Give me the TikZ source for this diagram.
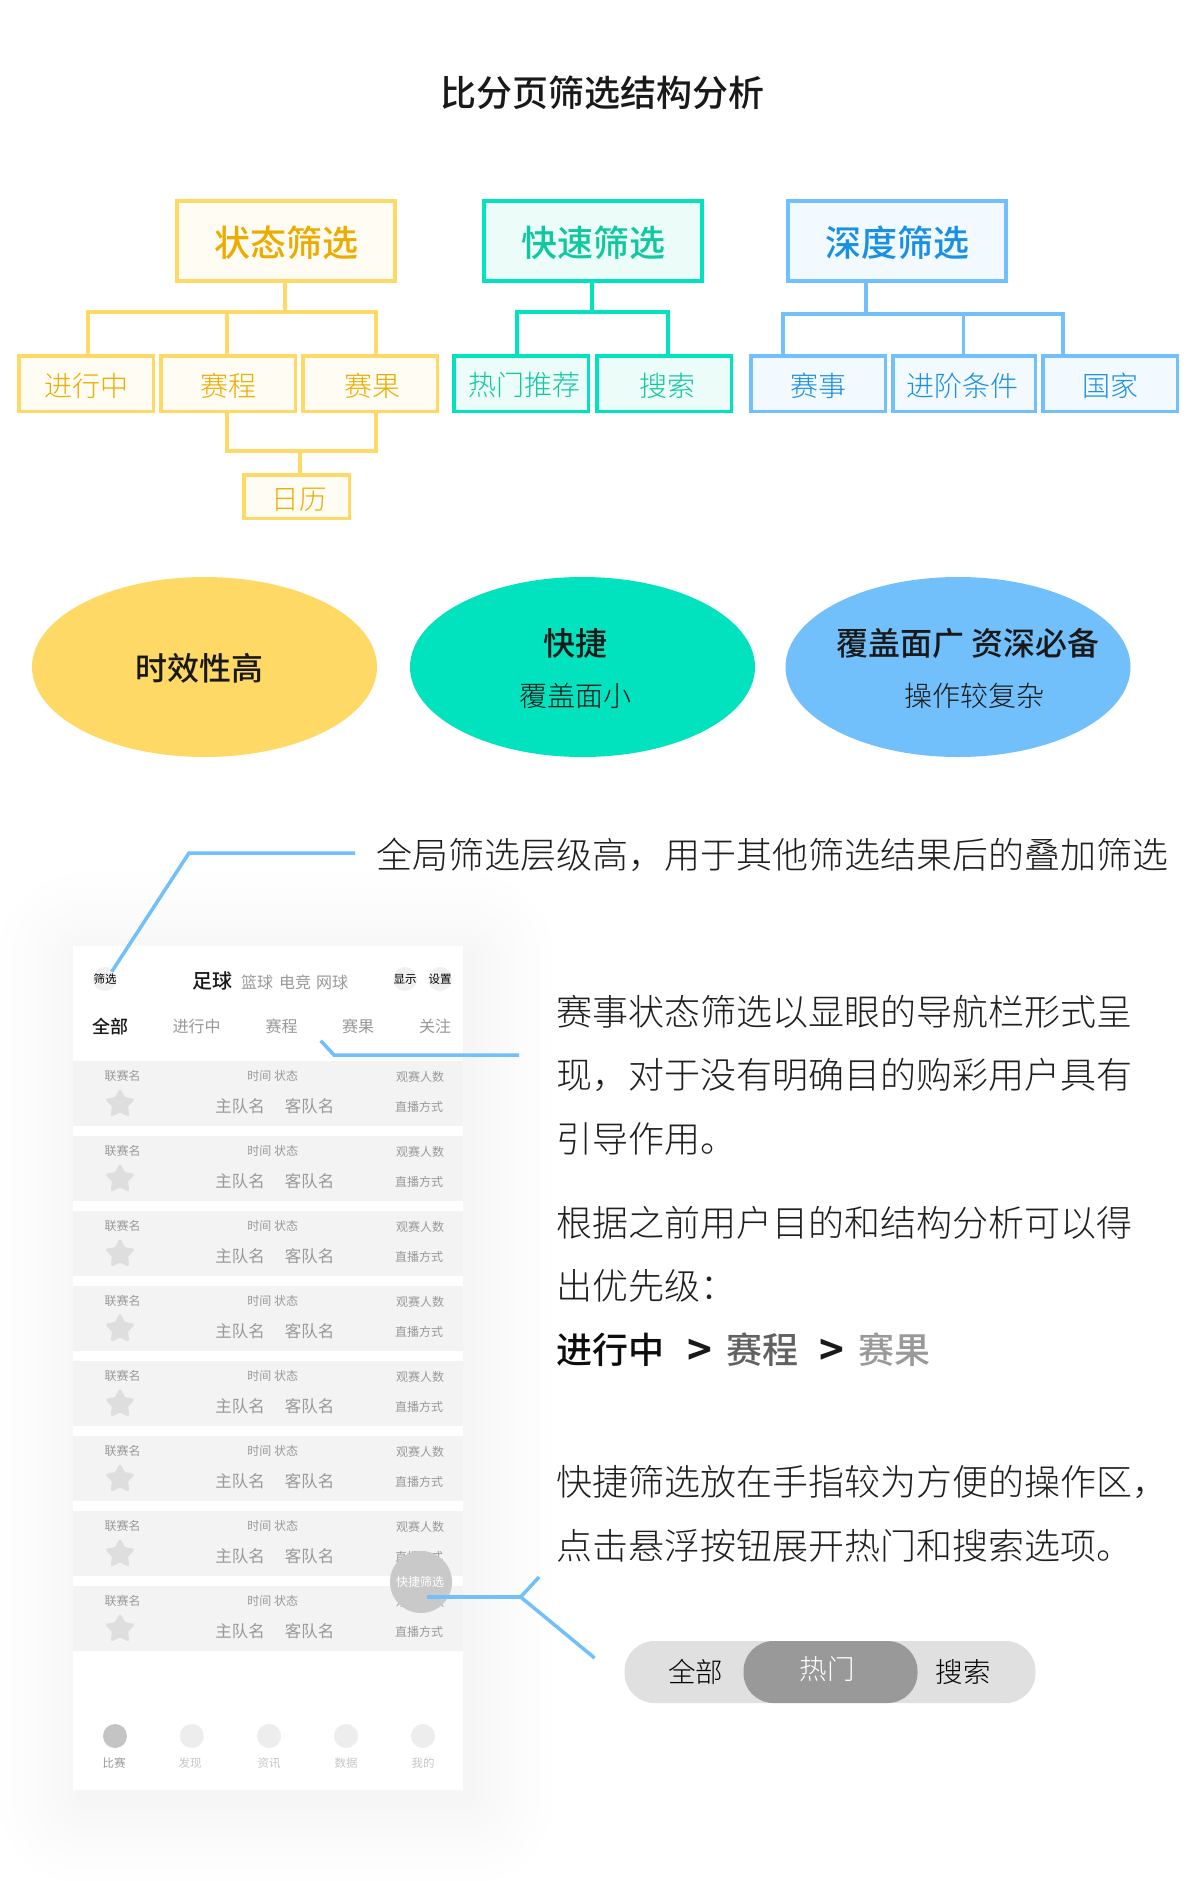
\documentclass[tikz,border=0pt]{standalone}
\usepackage{fontspec}
\usetikzlibrary{shapes.geometric}
\setmainfont{Noto Sans CJK SC}
\IfFontExistsTF{Noto Sans CJK SC Light}{\newfontfamily\lightcjk{Noto Sans CJK SC Light}}{\newfontfamily\lightcjk{Noto Sans CJK SC}}
\IfFontExistsTF{Noto Sans CJK SC Medium}{\newfontfamily\medcjk{Noto Sans CJK SC Medium}}{\newfontfamily\medcjk{Noto Sans CJK SC}}
\newfontfamily\boldcjk{Noto Sans CJK SC Bold}
\newcommand{\fsz}[1]{\fontsize{#1}{#1}\selectfont}
\newcommand{\cjkstrut}{\rule[-.08em]{0pt}{.92em}}
\definecolor{yl}{HTML}{FFD965}\definecolor{ylf}{HTML}{FFFDF3}\definecolor{ylt}{HTML}{EDAB00}
\definecolor{tl}{HTML}{00E3BE}\definecolor{tlf}{HTML}{ECFCF8}\definecolor{tlt}{HTML}{10C8A0}
\definecolor{bl}{HTML}{72C0FB}\definecolor{blf}{HTML}{F2F9FF}\definecolor{blt}{HTML}{1A90E5}
\definecolor{rowgray}{HTML}{F3F3F3}\definecolor{rowtxt}{HTML}{999999}
\tikzset{
 txt/.style={inner sep=0pt,outer sep=0pt,execute at begin node=\cjkstrut},
 lt/.style={txt,font={\lightcjk\fsz{#1}}},
 rg/.style={txt,font={\fsz{#1}}},
 md/.style={txt,font={\medcjk\fsz{#1}}},
 bd/.style={txt,font={\boldcjk\fsz{#1}}},
 boxb/.style={draw,line width=3.5pt,rectangle},
 ybox/.style={boxb,draw=yl,fill=ylf,text=ylt},
 tbox/.style={boxb,draw=tl,fill=tlf,text=tlt},
 bbox/.style={boxb,draw=bl,fill=blf,text=blt},
 big/.style={minimum width=218pt,minimum height=80pt},
 small/.style={minimum height=55.5pt},
 ylink/.style={draw=yl,line width=3.5pt},
 tlink/.style={draw=tl,line width=3.5pt},
 blink/.style={draw=bl,line width=3.5pt},
 call/.style={draw=bl,line width=3.5pt},
 oval/.style={ellipse,inner sep=0pt,minimum width=345pt,minimum height=180pt},
 dot/.style={circle,inner sep=0pt,minimum size=24pt,fill=#1},
 body/.style={lt=36,anchor=west,text=black!88},
 rowtext/.style={rg=#1,text=rowtxt},
}
\begin{document}
\begin{tikzpicture}[x=1pt,y=-1pt]
\useasboundingbox (0,0) rectangle (1200,1881);
\fill[white] (0,0) rectangle (1200,1881);

% title
\node[md=36,text=black!90] (title) at (602,93) {比分页筛选结构分析};

% yellow tree
\coordinate (ybus) at (285,312);
\coordinate (ya) at (88,312);
\coordinate (yb) at (227,312);
\coordinate (yc) at (376,312);
\coordinate (ylow) at (300,451);
\node[ybox,big] (s1) at (286,241) {};
\node[ybox,small,minimum width=134.5pt] (y1) at (86,383.5) {};
\node[ybox,small,minimum width=134.5pt] (y2) at (228,383.5) {};
\node[ybox,small,minimum width=134.5pt] (y3) at (370,383.5) {};
\node[ybox,minimum width=105.5pt,minimum height=43.5pt] (y4) at (296.5,496.5) {};
\draw[ylink] (s1.south -| ybus) -- (ybus);
\draw[ylink] (y1.north -| ya) |- (yc) -- (y3.north -| yc);
\draw[ylink] (yb) -- (y2.north -| yb);
\draw[ylink] (y2.south -| yb) |- (ylow) -| (y3.south -| yc);
\draw[ylink] (ylow) -- (y4.north -| ylow);
\node[md=36,text=ylt] (s1t) at (286,243) {状态筛选};
\node[lt=28,text=ylt] (y1t) at (86,386) {进行中};
\node[lt=28,text=ylt] (y2t) at (228,386) {赛程};
\node[lt=28,text=ylt] (y3t) at (372,386) {赛果};
\node[lt=27.5,text=ylt] (y4t) at (299,499) {日历};

% teal tree
\coordinate (tbus) at (592,312);
\coordinate (ta) at (517,312);
\coordinate (tb) at (668,312);
\node[tbox,big] (s2) at (593,241) {};
\node[tbox,small,minimum width=134.5pt] (t1) at (521,383.5) {};
\node[tbox,small,minimum width=134.5pt] (t2) at (664,383.5) {};
\draw[tlink] (s2.south -| tbus) -- (tbus);
\draw[tlink] (t1.north -| ta) |- (tb) -- (t2.north -| tb);
\node[md=36,text=tlt] (s2t) at (593,243) {快速筛选};
\node[lt=28,text=tlt] (t1t) at (524,385) {热门推荐};
\node[lt=28,text=tlt] (t2t) at (667,386) {搜索};

% blue tree
\coordinate (bbus) at (866,314);
\coordinate (ba) at (783,314);
\coordinate (bb) at (963.5,314);
\coordinate (bc) at (1063,314);
\node[bbox,big] (s3) at (897,241) {};
\node[bbox,small,minimum width=134.5pt] (b1) at (818,383.5) {};
\node[bbox,small,minimum width=142.5pt] (b2) at (964,383.5) {};
\node[bbox,small,minimum width=134.5pt] (b3) at (1110,383.5) {};
\draw[blink] (s3.south -| bbus) -- (bbus);
\draw[blink] (b1.north -| ba) |- (bc) -- (b3.north -| bc);
\draw[blink] (bb) -- (b2.north -| bb);
\node[md=36,text=blt] (s3t) at (897,243) {深度筛选};
\node[lt=28,text=blt] (b1t) at (818.5,386) {赛事};
\node[lt=28,text=blt] (b2t) at (962.5,386) {进阶条件};
\node[lt=28,text=blt] (b3t) at (1110.5,386) {国家};

% ovals
\node[oval,fill=yl] (e1) at (204.5,667) {};
\node[oval,fill=tl] (e2) at (582.5,667) {};
\node[oval,fill=bl] (e3) at (958,667) {};
\node[md=32,text=black!90] (e1t) at (199,668) {时效性高};
\node[md=32,text=black!90] (e2a) at (575.5,643) {快捷};
\node[lt=28,text=black!90] (e2b) at (575,696) {覆盖面小};
\node[md=32,text=black!90] (e3a) at (968,643) {覆盖面广 资深必备};
\node[lt=28,text=black!90] (e3b) at (974,696) {操作较复杂};

% phone shadow
\foreach \s in {6,12,19,27,36,46,57,69,82}{
  \fill[black,opacity=.004,rounded corners=\s pt] (73+8-\s,946+10-\s) rectangle (463+8+\s,1790+10+\s);
}
\fill[white] (73,946) rectangle (463,1790);

% phone header
\node[dot=black!6] (h1) at (105,979) {};
\node[rg=11.5,text=black] (h1t) at (105,979) {筛选};
\node[md=20,text=black!90] (h2) at (212.7,981) {足球};
\node[rg=16,text=rowtxt] (h3) at (257,982) {篮球};
\node[rg=16,text=rowtxt] (h4) at (295,982) {电竞};
\node[rg=16,text=rowtxt] (h5) at (332,982) {网球};
\node[dot=black!6] (h6) at (405,979) {};
\node[rg=11.5,text=black] (h6t) at (405,979) {显示};
\node[dot=black!6] (h7) at (440,979) {};
\node[rg=11.5,text=black] (h7t) at (440,979) {设置};
\node[md=18,text=black!90] (tab1) at (110.7,1027) {全部};
\node[rg=16,text=rowtxt] (tab2) at (196.7,1026) {进行中};
\node[rg=16,text=rowtxt] (tab3) at (281.7,1026) {赛程};
\node[rg=16,text=rowtxt] (tab4) at (358,1026) {赛果};
\node[rg=16,text=rowtxt] (tab5) at (435,1026) {关注};

% rows
\foreach \i in {0,...,7}{
  \fill[rowgray] (73,1061+75*\i) rectangle (463,1126+75*\i);
  \node[rowtext=12] (lg\i) at (122.7,1076+75*\i) {联赛名};
  \node[star,star points=5,star point ratio=1.9,fill=black!13,draw=black!13,line width=3pt,line join=round,inner sep=0pt,minimum size=26pt] (st\i) at (120,1104+75*\i) {};
  \node[rowtext=12] (tm\i) at (272.7,1076+75*\i) {时间 状态};
  \node[rowtext=16.5] (ht\i) at (240,1106+75*\i) {主队名};
  \node[rowtext=16.5] (at\i) at (309.7,1106+75*\i) {客队名};
  \node[rowtext=12] (vw\i) at (420,1076.5+75*\i) {观赛人数};
  \node[rowtext=12] (lv\i) at (419,1107+75*\i) {直播方式};
}

% bottom nav
\node[dot=black!23] (n1) at (115,1736) {};
\node[dot=black!7] (n2) at (191.8,1736) {};
\node[dot=black!7] (n3) at (269,1736) {};
\node[dot=black!7] (n4) at (346,1736) {};
\node[dot=black!7] (n5) at (423,1736) {};
\node[rg=11.5,text=rowtxt] (n1t) at (114,1763) {比赛};
\node[rg=11.5,text=black!22] (n2t) at (190,1763) {发现};
\node[rg=11.5,text=black!22] (n3t) at (269,1763) {资讯};
\node[rg=11.5,text=black!22] (n4t) at (346,1763) {数据};
\node[rg=11.5,text=black!22] (n5t) at (423,1763) {我的};

% floating button
\node[circle,inner sep=0pt,minimum size=62pt,fill=black!21] (fab) at (421,1582) {};
\node[rg=12,text=white] (fabt) at (420,1582) {快捷筛选};

% callout texts
\node[body] (c1) at (376,855) {全局筛选层级高，用于其他筛选结果后的叠加筛选};
\node[body] (c2) at (556,1012) {赛事状态筛选以显眼的导航栏形式呈};
\node[body] (c3) at (556,1075) {现，对于没有明确目的购彩用户具有};
\node[body] (c4) at (556,1139) {引导作用。};
\node[body] (c5) at (556,1223) {根据之前用户目的和结构分析可以得};
\node[body] (c6) at (556,1286) {出优先级：};
\node[md=36,anchor=west,text=black!95] (p1) at (556,1350) {进行中};
\node[bd=42,anchor=center,text=black!90] (g1) at (700,1350) {>};
\node[md=36,anchor=west,text=black!62] (p2) at (726,1350) {赛程};
\node[bd=42,anchor=center,text=black!90] (g2) at (832,1350) {>};
\node[md=36,anchor=west,text=rowtxt] (p3) at (858,1350) {赛果};
\node[body] (c7) at (556,1482) {快捷筛选放在手指较为方便的操作区，};
\node[body] (c8) at (556,1546) {点击悬浮按钮展开热门和搜索选项。};

% callout lines
\coordinate (l1a) at (111.7,971.7);
\coordinate (l1b) at (189,853);
\coordinate (l1c) at (355,853);
\draw[call,line join=miter] (l1a) -- (l1b) -- (l1c);
\coordinate (l2a) at (320.7,1040.7);
\coordinate (l2b) at (334,1055);
\coordinate (l2c) at (519,1055);
\draw[call] (l2a) -- (l2b) -- (l2c);
\coordinate (l3a) at (427,1597);
\coordinate (l3b) at (520.7,1597);
\coordinate (l3c) at (539,1577);
\coordinate (l3d) at (594.6,1658);
\draw[call] (l3a) -- (l3b);
\draw[call] (l3c) -- (l3b) -- (l3d);

% segmented control
\node[rectangle,rounded corners=30pt,fill=black!12,inner sep=0pt,minimum width=411pt,minimum height=62pt] (pill) at (830,1672) {};
\node[rectangle,rounded corners=30pt,fill=black!40,inner sep=0pt,minimum width=174pt,minimum height=62pt] (pillon) at (830.5,1672) {};
\node[lt=27.5,text=black] (pa) at (695.7,1672) {全部};
\node[lt=27.5,text=white] (pb) at (827,1669) {热门};
\node[lt=27.5,text=black] (pc) at (963,1672) {搜索};
\end{tikzpicture}
\end{document}
